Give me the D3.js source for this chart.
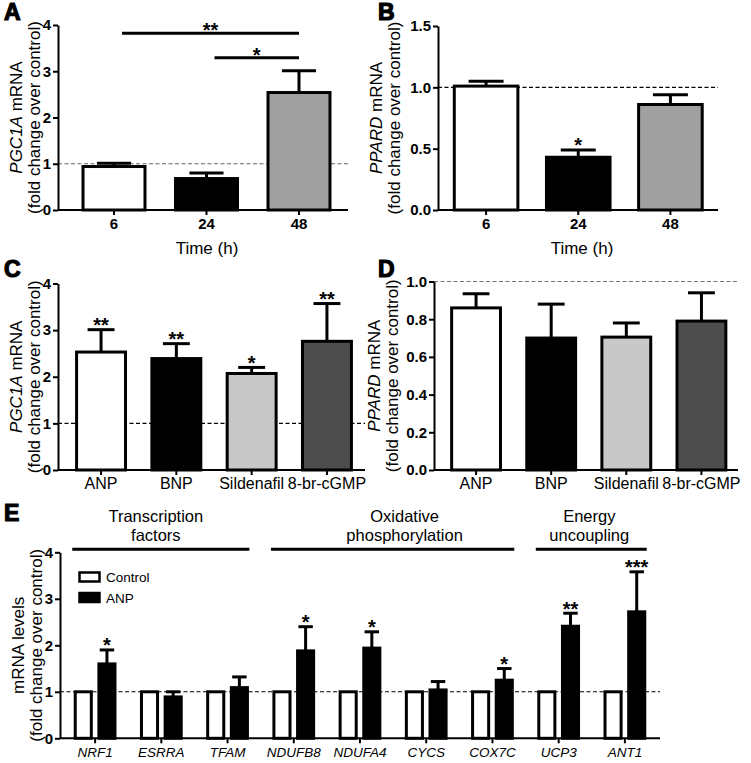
<!DOCTYPE html>
<html><head><meta charset="utf-8">
<script src="https://cdn.jsdelivr.net/npm/d3@7"></script>
<style>body{margin:0;background:#fff} text{font-family:"Liberation Sans",Arial,sans-serif;}</style>
</head><body>
<svg id="c" width="751" height="763"></svg>
<script>
// ---------- DATA ----------
const timeCats = ["6", "24", "48"];
const pgc1aTime = [0.94, 0.68, 2.54];
const pgc1aTimeErr = [1.01, 0.80, 3.01];
const ppardTime = [1.01, 0.43, 0.86];
const ppardTimeErr = [1.05, 0.49, 0.94];
const ppardTimeStars = ["", "*", ""];
const timeColors = ["#ffffff", "#000000", "#a0a0a0"];
const sigA = [
  {from: "6", to: "48", y: 3.82, label: "**"},
  {from: "24", to: "48", y: 3.29, label: "*"}
];

const drugCats = ["ANP", "BNP", "Sildenafil", "8-br-cGMP"];
const pgc1aDrug = [2.53, 2.39, 2.07, 2.76];
const pgc1aDrugErr = [3.01, 2.71, 2.20, 3.57];
const pgc1aDrugStars = ["**", "**", "*", "**"];
const ppardDrug = [0.86, 0.70, 0.705, 0.79];
const ppardDrugErr = [0.935, 0.88, 0.78, 0.94];
const drugColors = ["#ffffff", "#000000", "#c8c8c8", "#4d4d4d"];

const genes = ["NRF1", "ESRRA", "TFAM", "NDUFB8", "NDUFA4", "CYCS", "COX7C", "UCP3", "ANT1"];
const seriesNames = ["Control", "ANP"];
const controlVals = [1, 1, 1, 1, 1, 1, 1, 1, 1];
const anpVals = [1.60, 0.89, 1.09, 1.88, 1.94, 1.04, 1.25, 2.41, 2.72];
const anpErr = [1.90, 1.00, 1.32, 2.40, 2.29, 1.22, 1.50, 2.69, 3.58];
const anpStars = ["*", "", "", "*", "*", "", "*", "**", "***"];
const groupLabels = [["Transcription", "factors"], ["Oxidative", "phosphorylation"], ["Energy", "uncoupling"]];
const groupSpans = [["NRF1", "TFAM"], ["NDUFB8", "COX7C"], ["UCP3", "ANT1"]];

const ticks4 = [0, 1, 2, 3, 4];
const ticks15 = [0, 0.5, 1.0, 1.5];
const ticks10 = [0, 0.2, 0.4, 0.6, 0.8, 1.0];

// ---------- DRAW ----------
const svg = d3.select("#c");
const FONT = '"Liberation Sans", Arial, sans-serif';
const STAR = 20;

function yAxisDraw(g, y, x0, ticks, fmt) {
  const ax = d3.axisLeft(y).tickValues(ticks).tickFormat(fmt).tickSize(5).tickSizeOuter(0).tickPadding(2);
  const a = g.append("g").attr("transform", `translate(${x0},0)`).call(ax);
  a.select(".domain").attr("stroke", "#000").attr("stroke-width", 2);
  a.selectAll(".tick line").attr("stroke", "#000").attr("stroke-width", 2);
  a.selectAll(".tick text").attr("font-family", FONT).attr("font-size", 15).attr("font-weight", "bold").attr("fill", "#000");
}

function yTitle(g, lines, xs, yc) {
  lines.forEach((ln, i) => {
    const t = g.append("text").attr("transform", `translate(${xs[i]},${yc}) rotate(-90)`)
      .attr("text-anchor", "middle").attr("font-size", 17).attr("fill", "#000");
    if (Array.isArray(ln)) {
      t.append("tspan").attr("font-style", "italic").text(ln[0]);
      t.append("tspan").text(ln[1]);
    } else t.text(ln);
  });
}

function panelLetter(txt, x, y) {
  svg.append("text").attr("x", x).attr("y", y).text(txt)
    .attr("font-size", 23).attr("font-weight", "bold").attr("fill", "#000")
    .attr("stroke", "#000").attr("stroke-width", 1.2);
}

function starText(g, x, y, s) {
  g.append("text").attr("x", x).attr("y", y).attr("text-anchor", "middle")
    .attr("font-size", STAR).attr("font-weight", "bold").text(s);
}

function simplePanel(cfg) {
  const g = svg.append("g");
  const x = d3.scaleBand().domain(cfg.cats).range(cfg.band).paddingInner(cfg.pi).paddingOuter(cfg.pi / 2);
  const y = d3.scaleLinear().domain(cfg.ydom).range([cfg.bottom, cfg.top]);
  g.append("line").attr("x1", cfg.left).attr("x2", cfg.right).attr("y1", y(1)).attr("y2", y(1))
    .attr("stroke", cfg.dashColor).attr("stroke-width", 1.1).attr("stroke-dasharray", "4,2.5");
  const data = cfg.cats.map((c, i) => ({c, v: cfg.vals[i], e: cfg.errs[i], col: cfg.colors[i], s: cfg.stars ? cfg.stars[i] : ""}));
  const bw = x.bandwidth();
  data.forEach(d => {
    const cx = x(d.c) + bw / 2;
    g.append("line").attr("x1", cx).attr("x2", cx).attr("y1", y(d.v)).attr("y2", y(d.e)).attr("stroke", "#000").attr("stroke-width", 3);
    g.append("line").attr("x1", cx - bw * cfg.cap / 2).attr("x2", cx + bw * cfg.cap / 2).attr("y1", y(d.e)).attr("y2", y(d.e)).attr("stroke", "#000").attr("stroke-width", 3);
    if (d.s) starText(g, cx, y(d.e) + 2.5, d.s);
  });
  g.selectAll("rect.bar").data(data).enter().append("rect")
    .attr("x", d => x(d.c)).attr("width", bw)
    .attr("y", d => y(d.v)).attr("height", d => y(0) - y(d.v))
    .attr("fill", d => d.col).attr("stroke", "#000").attr("stroke-width", 3);
  g.append("line").attr("x1", cfg.left).attr("x2", cfg.right).attr("y1", y(0)).attr("y2", y(0)).attr("stroke", "#000").attr("stroke-width", 2);
  cfg.cats.forEach(c => {
    const cx = x(c) + bw / 2;
    g.append("line").attr("x1", cx).attr("x2", cx).attr("y1", y(0)).attr("y2", y(0) + 5).attr("stroke", "#000").attr("stroke-width", 2);
    g.append("text").attr("x", cx).attr("y", cfg.xlabY).attr("text-anchor", "middle")
      .attr("font-size", cfg.xlabSize).attr("font-weight", cfg.xlabBold ? "bold" : "normal").text(c);
  });
  yAxisDraw(g, y, cfg.left, cfg.ticks, cfg.fmt);
  if (cfg.xTitle) g.append("text").attr("x", (cfg.left + cfg.right) / 2 + 4).attr("y", cfg.xTitleY)
    .attr("text-anchor", "middle").attr("font-size", 17).text(cfg.xTitle);
  yTitle(g, cfg.ytitle, cfg.ytitleX, (cfg.top + cfg.bottom) / 2);
  return {g, x, y};
}

// Panel A
const A = simplePanel({cats: timeCats, vals: pgc1aTime, errs: pgc1aTimeErr, colors: timeColors,
  band: [67.75, 345.25], pi: 0.33, ydom: [0, 4], top: 25, bottom: 210, left: 58, right: 348,
  dashColor: "#666", cap: 0.55, ticks: ticks4, fmt: d3.format("d"),
  xlabY: 229, xlabSize: 15, xlabBold: true, xTitle: "Time (h)", xTitleY: 254,
  ytitle: [["PGC1A", " mRNA"], "(fold change over control)"], ytitleX: [22, 40]});
sigA.forEach(s => {
  const bw = A.x.bandwidth();
  const x1 = A.x(s.from) + bw / 2 + 8, x2 = A.x(s.to) + bw / 2;
  const yy = A.y(s.y);
  A.g.append("line").attr("x1", x1).attr("x2", x2).attr("y1", yy).attr("y2", yy).attr("stroke", "#000").attr("stroke-width", 3);
  starText(A.g, (x1 + x2) / 2, yy + 4, s.label);
});
panelLetter("A", 4, 20);

// Panel B
simplePanel({cats: timeCats, vals: ppardTime, errs: ppardTimeErr, colors: timeColors, stars: ppardTimeStars,
  band: [440, 716.5], pi: 0.31, ydom: [0, 1.5], top: 26, bottom: 210, left: 438, right: 718,
  dashColor: "#000", cap: 0.55, ticks: ticks15, fmt: d3.format(".1f"),
  xlabY: 229, xlabSize: 15, xlabBold: true, xTitle: "Time (h)", xTitleY: 254,
  ytitle: [["PPARD", " mRNA"], "(fold change over control)"], ytitleX: [382, 400]});
panelLetter("B", 378, 20);

// Panel C
simplePanel({cats: drugCats, vals: pgc1aDrug, errs: pgc1aDrugErr, colors: drugColors, stars: pgc1aDrugStars,
  band: [63.4, 364.6], pi: 0.35, ydom: [0, 4], top: 283.5, bottom: 470, left: 58, right: 365,
  dashColor: "#000", cap: 0.55, ticks: ticks4, fmt: d3.format("d"),
  xlabY: 489, xlabSize: 16, xlabBold: false,
  ytitle: [["PGC1A", " mRNA"], "(fold change over control)"], ytitleX: [22, 40]});
panelLetter("C", 4, 277);

// Panel D
simplePanel({cats: drugCats, vals: ppardDrug, errs: ppardDrugErr, colors: drugColors,
  band: [438.5, 739], pi: 0.35, ydom: [0, 1], top: 281.5, bottom: 470, left: 434, right: 738,
  dashColor: "#777", cap: 0.55, ticks: ticks10, fmt: d3.format(".1f"),
  xlabY: 489, xlabSize: 16, xlabBold: false,
  ytitle: [["PPARD", " mRNA"], "(fold change over control)"], ytitleX: [380, 398]});
panelLetter("D", 378, 277);

// Panel E
(function () {
  const g = svg.append("g");
  const left = 60, right = 660, top = 552.3, bottom = 738.3;
  const x0 = d3.scaleBand().domain(genes).range([62, 658]).paddingInner(0.4).paddingOuter(0.2);
  const x1 = d3.scaleBand().domain(seriesNames).range([0, x0.bandwidth()]).paddingInner(0.32);
  const y = d3.scaleLinear().domain([0, 4]).range([bottom, top]);
  g.append("line").attr("x1", left).attr("x2", right).attr("y1", y(1)).attr("y2", y(1))
    .attr("stroke", "#000").attr("stroke-width", 1.1).attr("stroke-dasharray", "4,2.5");
  const bw = x1.bandwidth();
  genes.forEach((gn, i) => {
    const cx = x0(gn) + x1("ANP") + bw / 2;
    g.append("line").attr("x1", cx).attr("x2", cx).attr("y1", y(anpVals[i])).attr("y2", y(anpErr[i])).attr("stroke", "#000").attr("stroke-width", 3);
    g.append("line").attr("x1", cx - bw * 0.45).attr("x2", cx + bw * 0.45).attr("y1", y(anpErr[i])).attr("y2", y(anpErr[i])).attr("stroke", "#000").attr("stroke-width", 3);
    if (anpStars[i]) starText(g, cx, y(anpErr[i]) + 2.5, anpStars[i]);
  });
  const series = [{name: "Control", vals: controlVals, fill: "#fff"}, {name: "ANP", vals: anpVals, fill: "#000"}];
  series.forEach(s => {
    g.selectAll(null).data(genes).enter().append("rect")
      .attr("x", d => x0(d) + x1(s.name)).attr("width", bw)
      .attr("y", (d, i) => y(s.vals[i])).attr("height", (d, i) => y(0) - y(s.vals[i]))
      .attr("fill", s.fill).attr("stroke", "#000").attr("stroke-width", 3);
  });
  g.append("line").attr("x1", left).attr("x2", right).attr("y1", y(0)).attr("y2", y(0)).attr("stroke", "#000").attr("stroke-width", 2);
  genes.forEach(gn => {
    const cx = x0(gn) + x0.bandwidth() / 2;
    g.append("line").attr("x1", cx).attr("x2", cx).attr("y1", y(0)).attr("y2", y(0) + 5).attr("stroke", "#000").attr("stroke-width", 2);
    g.append("text").attr("x", cx).attr("y", 757).attr("text-anchor", "middle").attr("font-size", 13.5)
      .attr("font-style", "italic").text(gn);
  });
  yAxisDraw(g, y, left, ticks4, d3.format("d"));
  yTitle(g, ["mRNA levels", "(fold change over control)"], [24, 42], (top + bottom) / 2);
  const labelDx = [-5, 12, -2];
  groupSpans.forEach((sp, i) => {
    const xa = x0(sp[0]) - 3, xb = x0(sp[1]) + x0.bandwidth() + 2;
    g.append("line").attr("x1", xa).attr("x2", xb).attr("y1", 549.3).attr("y2", 549.3).attr("stroke", "#000").attr("stroke-width", 3);
    const cx = (xa + xb) / 2 + labelDx[i];
    groupLabels[i].forEach((t, j) => {
      g.append("text").attr("x", cx).attr("y", 522 + j * 19).attr("text-anchor", "middle").attr("font-size", 16.5).text(t);
    });
  });
  series.forEach((s, i) => {
    g.append("rect").attr("x", 79.5).attr("y", 572.5 + i * 20.5).attr("width", 20).attr("height", 9)
      .attr("fill", s.fill).attr("stroke", "#000").attr("stroke-width", 2.5);
    g.append("text").attr("x", 106).attr("y", 582 + i * 20.5).attr("font-size", 13.5).text(s.name);
  });
})();
panelLetter("E", 4, 521);
</script>
</body></html>
